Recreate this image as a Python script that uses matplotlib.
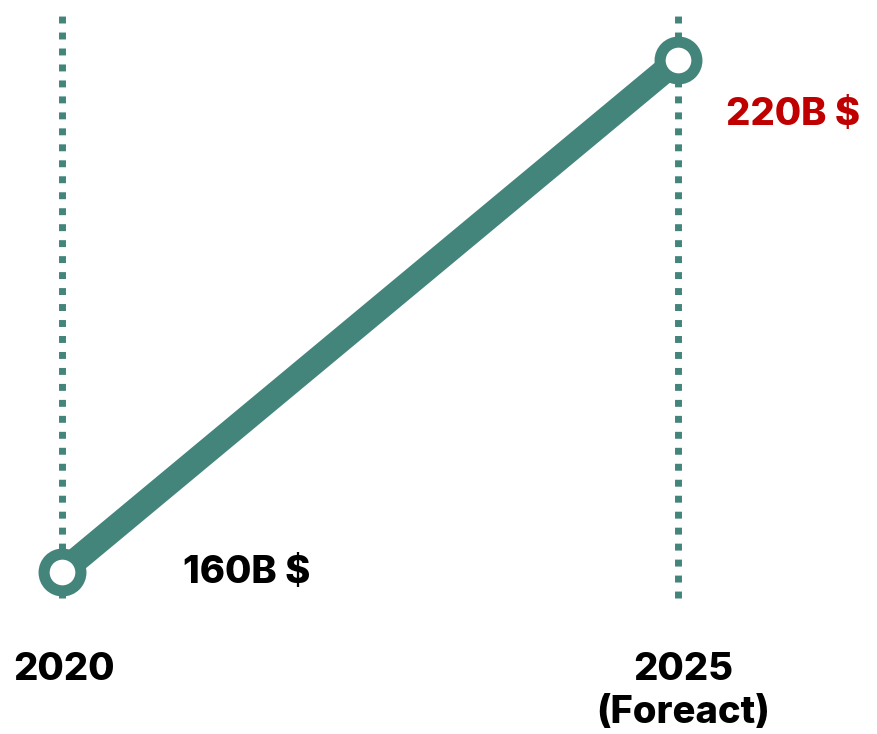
import matplotlib.pyplot as plt

# data
years = [2020, 2025]
values = [160, 220]
year_labels = ['2020', '2025']
sub_labels = ['', '(Foreact)']
value_labels = ['160B $', '220B $']
value_colors = ['#000000', '#c00000']

teal = '#43857b'
font = dict(fontsize=27.5, fontweight='heavy', family='Inter')

fig = plt.figure(figsize=(8.77, 7.34), dpi=100)
ax = fig.add_axes([0, 0, 1, 1])
ax.set_xlim(2019.497, 2026.615)
ax.set_ylim(141.0, 227.0)
ax.axis('off')

# dotted guide lines
for yr in years:
    ax.plot([yr, yr], [156.95, 225.6], color=teal, lw=5, dashes=(1.0, 1.3),
            solid_capstyle='butt', dash_capstyle='butt', zorder=1)

# main line with ring markers
ax.plot(years, values, color=teal, lw=18, solid_capstyle='butt', zorder=2)
ax.plot(years, values, 'o', ms=26.5, mfc='white', mec=teal, mew=8, zorder=3)

# year labels
ax.text(years[0] + 0.02, 148.5, year_labels[0], ha='center', va='center', **font)
ax.text(years[1] + 0.04, 148.5, year_labels[1], ha='center', va='center', **font)
ax.text(years[1] + 0.04, 143.5, sub_labels[1], ha='center', va='center', **font)

# value labels
ax.text(years[0] + 0.98, values[0] - 0.1, value_labels[0], ha='left', va='center',
        color=value_colors[0], **font)
ax.text(years[1] + 0.39, values[1] - 6.5, value_labels[1], ha='left', va='center',
        color=value_colors[1], **font)

fig.savefig('out.png', dpi=100)
